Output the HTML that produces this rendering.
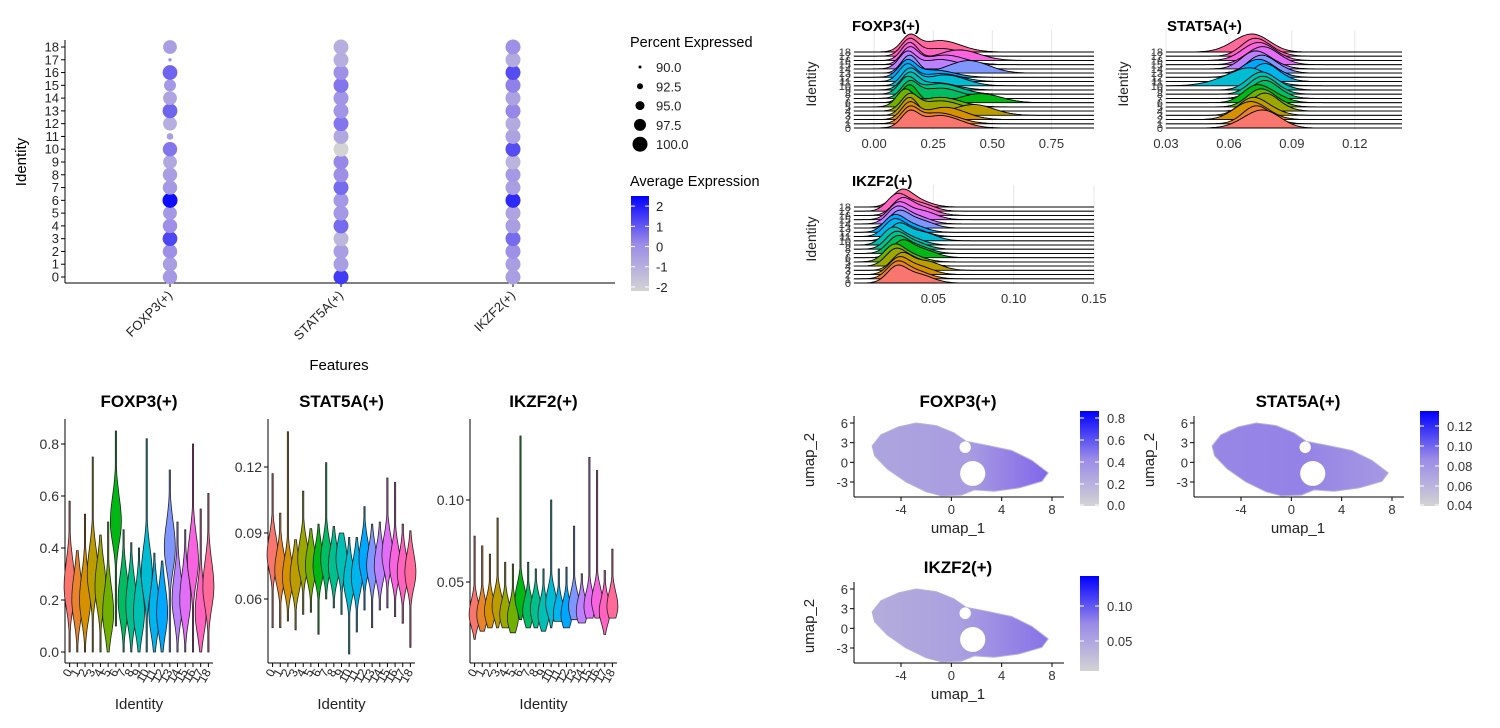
<!DOCTYPE html>
<html><head><meta charset="utf-8">
<style>
html,body{margin:0;padding:0;background:#fff;}
svg{display:block;font-family:"Liberation Sans",Arial,sans-serif;}
</style></head>
<body>
<svg id="fig" width="1500" height="728" viewBox="0 0 1500 728" xmlns="http://www.w3.org/2000/svg">
<defs>
<linearGradient id="gradAvg" x1="0" y1="1" x2="0" y2="0"><stop offset="0" stop-color="#D3D3D3"/><stop offset="0.5" stop-color="#9A8AE8"/><stop offset="1" stop-color="#0000FF"/></linearGradient>
<linearGradient id="umapF" x1="0" y1="0" x2="1" y2="0"><stop offset="0" stop-color="#ADA5DE"/><stop offset="0.55" stop-color="#A99CE1"/><stop offset="1" stop-color="#8066E9"/></linearGradient>
<linearGradient id="umapS" x1="0" y1="0" x2="1" y2="0"><stop offset="0" stop-color="#9887E5"/><stop offset="0.5" stop-color="#9482E6"/><stop offset="1" stop-color="#A699E2"/></linearGradient>
<linearGradient id="umapI" x1="0" y1="0" x2="1" y2="0"><stop offset="0" stop-color="#B4ADDB"/><stop offset="0.5" stop-color="#AA9FE0"/><stop offset="1" stop-color="#8872E8"/></linearGradient>
</defs>
<g id="root"></g>
</svg>
<script>
// ---------- DATA ----------
const identities = ["0","1","2","3","4","5","6","7","8","9","10","11","12","13","14","15","16","17","18"];
const features = ["FOXP3(+)","STAT5A(+)","IKZF2(+)"];
// dot plot
const avgFOXP3 = [-0.3,-0.5,0,1.3,0,-0.3,2.3,-0.3,-0.5,-0.8,0.5,-0.5,-1,0.8,-0.7,-0.3,0.8,0,-0.5];
const avgSTAT5A = [1.5,-0.5,-0.5,-1.3,0.7,-0.3,-0.3,0.7,0,0.2,-2.2,-0.8,0.5,-0.2,-0.2,0.5,0,-1,-1];
const avgIKZF2 = [-0.5,-0.5,0,0.7,-0.5,-0.7,1.8,-0.5,-0.3,-1.2,1.2,-0.6,-0.9,0.2,-0.6,0.3,1.2,-0.9,0];
const pctFOXP3 = [99.5,99.5,99.5,99.8,99.5,99,100,99.5,99.5,99,99.5,93,99,99.8,99,97.5,99.8,90.3,99];
const pctSTAT5A = [100,100,100,100,100,100,100,100,100,100,100,100,100,100,100,100,100,100,100];
const pctIKZF2 = [100,100,100,100,100,100,100,100,100,100,100,100,100,100,100,100,100,100,100];
const pctLegend = [90.0,92.5,95.0,97.5,100.0];
const avgTicks = [2,1,0,-1,-2];
// ridge plots: two-component densities per identity
const rFOXP3m1 = [.15,.15,.15,.15,.15,.13,.15,.15,.14,.15,.15,.14,.14,.15,.14,.15,.15,.15,.15];
const rFOXP3m2 = [.28,.27,.3,.42,.28,.28,.45,.28,.28,.26,.3,.28,.25,.40,.28,.30,.36,.28,.28];
const rFOXP3w2 = [.9,.8,.8,.6,.7,.6,.5,.7,.7,.5,.7,.5,.5,.7,.6,.6,.6,.5,.8];
const rSTATm1 = [.073,.072,.068,.070,.076,.074,.072,.076,.075,.074,.066,.076,.072,.074,.071,.074,.072,.071,.068];
const rSTATm2 = [.080,.076,.075,.077,.080,.079,.080,.080,.079,.080,.072,.080,.078,.080,.078,.080,.078,.077,.075];
const rSTATsd = [.008,.006,.007,.006,.006,.006,.006,.006,.006,.006,.011,.006,.007,.006,.006,.007,.007,.006,.008];
const rIKZm1 = [.027,.027,.028,.030,.026,.025,.030,.027,.026,.024,.028,.025,.025,.028,.027,.028,.030,.027,.030];
const rIKZm2 = [.040,.038,.040,.045,.036,.034,.042,.038,.036,.034,.042,.036,.035,.040,.038,.042,.042,.040,.038];
// violins
const vFmin = [0,0,0,0,0,0,.1,0,0,0,0,0,0,0,0,0,0,0,0];
const vFmax = [.58,.39,.53,.75,.45,.5,.85,.47,.42,.4,.82,.38,.35,.7,.5,.47,.8,.55,.61];
const vFmode = [.25,.2,.2,.3,.25,.15,.5,.2,.18,.15,.3,.15,.15,.4,.2,.2,.35,.15,.25];
const vSmin = [.047,.047,.05,.046,.053,.054,.044,.06,.056,.053,.035,.045,.055,.047,.055,.056,.052,.049,.038];
const vSmax = [.117,.099,.136,.087,.109,.092,.094,.122,.093,.09,.088,.088,.102,.094,.095,.115,.113,.094,.091];
const vSmode = [.08,.073,.07,.07,.078,.075,.075,.078,.075,.078,.068,.07,.078,.075,.075,.08,.075,.072,.072];
const vImin = [.015,.02,.022,.022,.022,.019,.027,.022,.022,.02,.022,.026,.022,.027,.025,.028,.028,.018,.028];
const vImax = [.078,.072,.067,.089,.062,.061,.139,.062,.058,.058,.1,.058,.059,.084,.055,.126,.118,.057,.07];
const vImode = [.03,.03,.032,.035,.03,.028,.04,.032,.033,.03,.037,.03,.03,.035,.032,.035,.038,.032,.035];
// umap cluster outline (umap units)
const umapOutline = [[-6.3,2.5],[-5.6,4.2],[-4.2,5.4],[-2.8,6],[-1.2,5.6],[0.2,4.5],[1.2,3.2],[2.8,2.6],[4.8,1.8],[6.4,0.3],[7.7,-1.6],[7.2,-2.9],[5.4,-3.9],[3.4,-4.4],[1.8,-4.2],[0.8,-5],[-0.8,-5.1],[-2,-4.5],[-3.6,-3],[-5.1,-1],[-6.1,1]];
const umapHoles = [[1.7,-1.7,1.0,1.9],[1.1,2.3,0.45,0.9]];
const umapXTicks = [-4,0,4,8];
const umapYTicks = [6,3,0,-3];
const cbF = ["0.8","0.6","0.4","0.2","0.0"];
const cbS = ["0.12","0.10","0.08","0.06","0.04"];
const cbI = ["0.10","0.05"];

// ---------- HELPERS ----------
const NS="http://www.w3.org/2000/svg";
const root=document.getElementById('root');
function mk(tag,attrs,parent,text){const e=document.createElementNS(NS,tag);for(const k in attrs)e.setAttribute(k,attrs[k]);if(text!==undefined)e.textContent=text;(parent||root).appendChild(e);return e;}
function grp(name){const g=document.createElementNS(NS,'g');root.appendChild(g);return g;}
function lin(d0,d1,r0,r1){return v=>r0+(v-d0)/(d1-d0)*(r1-r0);}
function hcl(h){const L=65,C=100,hr=h*Math.PI/180;const u=C*Math.cos(hr),v=C*Math.sin(hr);
 const Xn=95.047,Yn=100,Zn=108.883;const un=4*Xn/(Xn+15*Yn+3*Zn),vn=9*Yn/(Xn+15*Yn+3*Zn);
 const Y=Math.pow((L+16)/116,3)*Yn;const up=u/(13*L)+un,vp=v/(13*L)+vn;
 const X=Y*9*up/(4*vp),Z=Y*(12-3*up-20*vp)/(4*vp);
 const x=X/100,y=Y/100,z=Z/100;
 let r=3.2404542*x-1.5371385*y-0.4985314*z,g=-0.9692660*x+1.8760108*y+0.0415560*z,b=0.0556434*x-0.2040259*y+1.0572252*z;
 const gm=c=>{c=Math.max(0,Math.min(1,c));return Math.round(255*(c<=0.0031308?12.92*c:1.055*Math.pow(c,1/2.4)-0.055));};
 return `rgb(${gm(r)},${gm(g)},${gm(b)})`;}
const pal=identities.map((_,i)=>hcl(15+360*i/identities.length));
function avgColor(v){const t=Math.max(0,Math.min(1,(v+2.2)/4.7));
 const a=[211,211,211],m=[154,138,232],b=[0,0,255];let c;
 if(t<0.5){const s=t/0.5;c=a.map((x,k)=>x+(m[k]-x)*s);}else{const s=(t-0.5)/0.5;c=m.map((x,k)=>x+(b[k]-x)*s);}
 return `rgb(${c.map(Math.round).join(',')})`;}
function pctR(p){return Math.max(0.8,1.5+(p-90)/10*6);}

// ---------- DOT PLOT ----------
(function(){
 const g=grp('dot-plot');
 const X0=65,X1=615,yS=lin(0,18,277,47);
 const colX=[170,341,513];
 mk('line',{x1:X0,y1:283,x2:X1,y2:283,stroke:'#000','stroke-width':1,},g);
 mk('line',{x1:X0,y1:40,x2:X0,y2:283,stroke:'#000','stroke-width':1,},g);
 identities.forEach((id,i)=>{const y=yS(i);
  mk('line',{x1:X0-4,y1:y,x2:X0,y2:y,stroke:'#000'},g);
  mk('text',{x:X0-6,y:y+4.5,'text-anchor':'end','font-size':13,fill:'#222',},g,id);});
 const avgs=[avgFOXP3,avgSTAT5A,avgIKZF2],pcts=[pctFOXP3,pctSTAT5A,pctIKZF2];
 features.forEach((f,j)=>{const x=colX[j];
  mk('line',{x1:x,y1:283,x2:x,y2:287,stroke:'#000'},g);
  const t=mk('text',{x:x+3,y:296,'text-anchor':'end','font-size':13,fill:'#222',transform:`rotate(-45 ${x+3} 296)`},g,f);
  
  identities.forEach((id,i)=>{const c=mk('circle',{cx:x,cy:yS(i),r:pctR(pcts[j][i]),fill:avgColor(avgs[j][i])},g);
   
   });});
 mk('text',{x:339,y:370,'text-anchor':'middle','font-size':15,fill:'#000',},g,'Features');
 mk('text',{x:26,y:162,'text-anchor':'middle','font-size':15,fill:'#000',transform:'rotate(-90 26 162)',},g,'Identity');
 mk('text',{x:630,y:47,'font-size':14.5,fill:'#000',},g,'Percent Expressed');
 pctLegend.forEach((p,k)=>{const y=67+k*19.3;
  const c=mk('circle',{cx:640,cy:y,r:pctR(p),fill:'#000'},g);
  
  mk('text',{x:656,y:y+5,'font-size':13,fill:'#222'},g,p.toFixed(1));});
 mk('text',{x:630,y:186,'font-size':14.5,fill:'#000',},g,'Average Expression');
 mk('rect',{x:631,y:196,width:18,height:95,fill:'url(#gradAvg)',},g);
 const cy=lin(-2.2,2.5,291,196);
 avgTicks.forEach(v=>{const y=cy(v);mk('line',{x1:631,y1:y,x2:635,y2:y,stroke:'#fff'},g);mk('line',{x1:645,y1:y,x2:649,y2:y,stroke:'#fff'},g);
  mk('text',{x:656,y:y+5,'font-size':13,fill:'#222'},g,String(v));});
})();

// ---------- RIDGE PLOTS ----------
function ridge(name,title,tx,ty,xd0,xd1,xr0,xr1,yb,yt,ticks,tickFmt,m1,m2,sd1,sd2,w2,H){
 const g=grp(name);
 const xs=lin(xd0,xd1,xr0,xr1);
 ticks.forEach(t=>{mk('line',{x1:xs(t),y1:yt-22,x2:xs(t),y2:yb+2,stroke:'#e6e6e6','stroke-width':1},g);
  mk('text',{x:xs(t),y:yb+20,'text-anchor':'middle','font-size':13,fill:'#333',},g,tickFmt(t));});
 mk('text',{x:tx,y:ty,'font-size':15,'font-weight':'bold',fill:'#000',},g,title);
 mk('text',{x:xr0-38,y:(yb+yt)/2-6,'text-anchor':'middle','font-size':14,fill:'#222',transform:`rotate(-90 ${xr0-38} ${(yb+yt)/2-6})`},g,'Identity');
 const n=identities.length,sp=(yb-yt)/(n-1);
 identities.forEach((id,i)=>{mk('text',{x:xr0-3,y:yb-i*sp+4,'text-anchor':'end','font-size':11,fill:'#333'},g,id);});
 for(let i=n-1;i>=0;i--){
  const base=yb-i*sp;const s1=Array.isArray(sd1)?sd1[i]:sd1,s2=Array.isArray(sd2)?sd2[i]:sd2;
  const f=x=>Math.exp(-0.5*((x-m1[i])/s1)**2)+w2[i]*Math.exp(-0.5*((x-m2[i])/s2)**2);
  let mx=0;const pts=[];const N=160;
  for(let k=0;k<=N;k++){const xv=xd0+(xd1-xd0)*k/N;const v=f(xv);mx=Math.max(mx,v);pts.push([xv,v]);}
  let d=`M${xr0},${base}`;pts.forEach(p=>{d+=` L${xs(p[0]).toFixed(1)},${(base-H*p[1]/mx).toFixed(1)}`;});
  const area=mk('path',{d:d+` L${xr1},${base} Z`,fill:pal[i],stroke:'none'},g);
  
  
  mk('path',{d:d,fill:'none',stroke:'#000','stroke-width':0.9},g);
  mk('line',{x1:xr0,y1:base,x2:xr1,y2:base,stroke:'#000','stroke-width':0.9},g);
 }
}
ridge('ridge-foxp3','FOXP3(+)',852,31,-0.085,0.93,854,1094,128,52,[0,0.25,0.5,0.75],t=>t.toFixed(2),rFOXP3m1,rFOXP3m2,0.035,0.085,rFOXP3w2,18);
ridge('ridge-stat5a','STAT5A(+)',1167,31,0.03,0.1425,1166,1402,128,52,[0.03,0.06,0.09,0.12],t=>t.toFixed(2),rSTATm1,rSTATm2,rSTATsd,0.007,identities.map(()=>0.6),18);
ridge('ridge-ikzf2','IKZF2(+)',852,186,0.0006,0.15,854,1094,283,207,[0.05,0.10,0.15],t=>t.toFixed(2),rIKZm1,rIKZm2,0.006,0.009,identities.map(()=>0.6),18);

// ---------- VIOLINS ----------
function violin(name,title,ax0,ax1,yd0,yd1,yr0,yr1,ticks,fmt,vmin,vmax,vmode,sd){
 const g=grp(name);const ys=lin(yd0,yd1,yr0,yr1);
 const n=identities.length;const unit=(ax1-ax0)/(n-1+1.2);const xs=i=>ax0+unit*(0.6+i);
 mk('line',{x1:ax0,y1:419,x2:ax0,y2:663,stroke:'#000'},g);
 mk('line',{x1:ax0,y1:663,x2:ax1,y2:663,stroke:'#000'},g);
 ticks.forEach(t=>{const y=ys(t);mk('line',{x1:ax0-4,y1:y,x2:ax0,y2:y,stroke:'#000'},g);
  mk('text',{x:ax0-6,y:y+5,'text-anchor':'end','font-size':14,fill:'#333',},g,fmt(t));});
 mk('text',{x:(ax0+ax1)/2,y:407,'text-anchor':'middle','font-size':17,'font-weight':'bold',fill:'#000',},g,title);
 mk('text',{x:(ax0+ax1)/2,y:709,'text-anchor':'middle','font-size':15,fill:'#222'},g,'Identity');
 identities.forEach((id,i)=>{const x=xs(i);
  mk('line',{x1:x,y1:663,x2:x,y2:667,stroke:'#000'},g);
  mk('text',{x:x+3,y:672,'text-anchor':'end','font-size':12,fill:'#222',transform:`rotate(-60 ${x+3} 672)`},g,id);
  const lo=vmin[i],hi=vmax[i],mo=vmode[i];const W=5.5;const N=50;const L=[],R=[];
  for(let k=0;k<=N;k++){const v=lo+(hi-lo)*k/N;const s=v<mo?sd*0.9:sd*1.1;
   const w=Math.max(0.6,W*Math.exp(-0.5*((v-mo)/s)**2));const y=ys(v);R.push(`${(x+w).toFixed(1)},${y.toFixed(1)}`);L.unshift(`${(x-w).toFixed(1)},${y.toFixed(1)}`);}
  const p=mk('polygon',{points:R.concat(L).join(' '),fill:pal[i],stroke:'#222','stroke-width':0.8},g);
  
  });
}
violin('violin-foxp3','FOXP3(+)',65,213,0,0.8,652,444,[0,0.2,0.4,0.6,0.8],t=>t.toFixed(1),vFmin,vFmax,vFmode,0.09);
violin('violin-stat5a','STAT5A(+)',268,415,0.06,0.12,599,467,[0.06,0.09,0.12],t=>t.toFixed(2),vSmin,vSmax,vSmode,0.008);
violin('violin-ikzf2','IKZF2(+)',470,617,0.05,0.10,582,500,[0.05,0.10],t=>t.toFixed(2),vImin,vImax,vImode,0.008);

// ---------- UMAPS ----------
function umap(name,title,ax,yoff,grad,cbx,cbLabels,cbTop,cbBot,cbPos){
 const g=grp(name);
 const xs=lin(-4,8,ax+47,ax+198),ys=lin(6,-3,423+yoff,482+yoff);
 const bottom=497+yoff;
 mk('line',{x1:ax,y1:416+yoff,x2:ax,y2:bottom,stroke:'#000'},g);
 mk('line',{x1:ax,y1:bottom,x2:ax+210,y2:bottom,stroke:'#000'},g);
 umapXTicks.forEach(t=>{mk('line',{x1:xs(t),y1:bottom,x2:xs(t),y2:bottom+4,stroke:'#000'},g);
  mk('text',{x:xs(t),y:bottom+17,'text-anchor':'middle','font-size':13,fill:'#333',},g,String(t));});
 umapYTicks.forEach(t=>{mk('line',{x1:ax-4,y1:ys(t),x2:ax,y2:ys(t),stroke:'#000'},g);
  mk('text',{x:ax-6,y:ys(t)+5,'text-anchor':'end','font-size':13,fill:'#333',},g,String(t));});
 mk('text',{x:ax+104,y:bottom+36,'text-anchor':'middle','font-size':15,fill:'#222'},g,'umap_1');
 mk('text',{x:ax-40,y:460+yoff,'text-anchor':'middle','font-size':15,fill:'#222',transform:`rotate(-90 ${ax-40} ${460+yoff})`},g,'umap_2');
 mk('text',{x:ax+104,y:407+yoff,'text-anchor':'middle','font-size':17,'font-weight':'bold',fill:'#000',},g,title);
 const cl=mk('polygon',{points:umapOutline.map(p=>`${xs(p[0]).toFixed(1)},${ys(p[1]).toFixed(1)}`).join(' '),fill:`url(#${grad})`,stroke:'#b8afdf','stroke-width':1},g);
 
 
 umapHoles.forEach(h=>{mk('ellipse',{cx:xs(h[0]),cy:ys(h[1]),rx:h[2]*12.6,ry:h[3]*6.55,fill:'#fff'},g);});
 mk('rect',{x:cbx,y:cbTop,width:19,height:cbBot-cbTop,fill:'url(#gradAvg)',},g);
 cbLabels.forEach((l,k)=>{const y=cbPos[k];mk('line',{x1:cbx,y1:y,x2:cbx+4,y2:y,stroke:'#fff'},g);mk('line',{x1:cbx+15,y1:y,x2:cbx+19,y2:y,stroke:'#fff'},g);
  mk('text',{x:cbx+27,y:y+5,'font-size':13,fill:'#333'},g,l);});
}
umap('umap-foxp3','FOXP3(+)',854,0,'umapF',1080,cbF,411,506,[418,440,462,484,505]);
umap('umap-stat5a','STAT5A(+)',1194,0,'umapS',1420,cbS,411,506,[426,446,466,486,505]);
umap('umap-ikzf2','IKZF2(+)',854,166,'umapI',1080,cbI,576,671,[606,641]);
</script>
</body></html>
